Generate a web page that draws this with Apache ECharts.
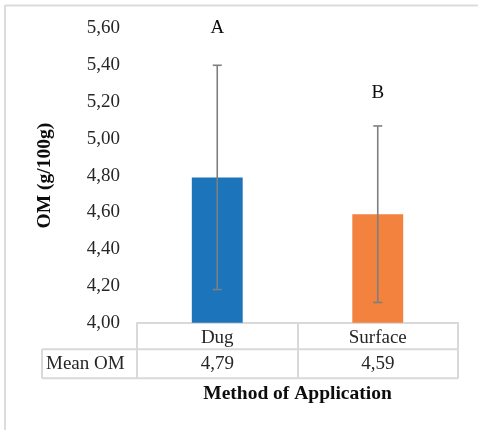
<!DOCTYPE html>
<html><head><meta charset="utf-8">
<script src="https://cdn.jsdelivr.net/npm/echarts@6/dist/echarts.min.js"></script>
<style>html,body{margin:0;padding:0;background:#fff}#c{width:478px;height:430px}</style>
</head><body><div id="c"></div>
<script>
var categories = ['Dug', 'Surface'];
var meanOM = [4.79, 4.59];
var errLow = [4.18, 4.11];
var errHigh = [5.40, 5.07];
var letters = ['A', 'B'];
var letterY = [5.60, 5.25];
var yTicks = [4.0, 4.2, 4.4, 4.6, 4.8, 5.0, 5.2, 5.4, 5.6];
var barColors = ['#1c74bb', '#f2823e'];
var rowLabel = 'Mean OM';

function fmt(v){ return v.toFixed(2).replace('.', ','); }
var FONT = '"Liberation Serif", "Times New Roman", serif';
var TXT = '#262626';

var chart = echarts.init(document.getElementById('c'), null, {renderer: 'canvas'});
var option = {
  animation: false,
  backgroundColor: '#fff',
  grid: {left: 137, right: 20, top: 28.5, bottom: 107.3},
  xAxis: [{
    type: 'category', data: categories, boundaryGap: true,
    axisLine: {show: true, lineStyle: {color: '#d9d9d9', width: 2}},
    axisTick: {show: true, inside: false, length: 56, lineStyle: {color: '#d9d9d9', width: 2}},
    axisLabel: {margin: 6, color: TXT, fontFamily: FONT, fontSize: 19},
    splitLine: {show: false}
  }],
  yAxis: [{
    type: 'value', min: yTicks[0], max: yTicks[yTicks.length - 1], interval: 0.2,
    axisLine: {show: false}, axisTick: {show: false}, splitLine: {show: false},
    axisLabel: {margin: 17, color: TXT, fontFamily: FONT, fontSize: 19, formatter: fmt},
    name: 'OM (g/100g)', nameLocation: 'middle', nameGap: 82, nameRotate: 90,
    nameTextStyle: {fontFamily: FONT, fontSize: 19.5, fontWeight: 'bold', color: '#0d0d0d'}
  }],
  series: [{
    type: 'bar', barWidth: '31.7%',
    data: meanOM.map(function(v, i){ return {value: v, itemStyle: {color: barColors[i]}}; }),
    z: 2
  }, {
    type: 'custom', z: 5,
    data: categories.map(function(c, i){ return [i, errLow[i], errHigh[i]]; }),
    renderItem: function(params, api){
      var lo = api.coord([api.value(0), api.value(1)]);
      var hi = api.coord([api.value(0), api.value(2)]);
      var hw = 4.5;
      var st = {stroke: '#7f7f7f', lineWidth: 1.6};
      return {type: 'group', children: [
        {type: 'line', shape: {x1: hi[0], y1: hi[1], x2: lo[0], y2: lo[1]}, style: st},
        {type: 'line', shape: {x1: hi[0]-hw, y1: hi[1], x2: hi[0]+hw, y2: hi[1]}, style: st},
        {type: 'line', shape: {x1: lo[0]-hw, y1: lo[1], x2: lo[0]+hw, y2: lo[1]}, style: st}
      ]};
    }
  }, {
    type: 'custom', z: 6,
    data: categories.map(function(c, i){ return [i, letterY[i]]; }),
    renderItem: function(params, api){
      var p = api.coord([api.value(0), api.value(1)]);
      return {type: 'text', style: {x: p[0], y: p[1], text: letters[params.dataIndex], align: 'center', verticalAlign: 'middle',
        font: '19px ' + FONT, fill: '#0d0d0d'}};
    }
  }]
};
chart.setOption(option);

// Data table below the axis, positioned through the axis scale
var x0 = chart.convertToPixel({xAxisIndex: 0}, categories[0]);
var x1 = chart.convertToPixel({xAxisIndex: 0}, categories[1]);
var band = x1 - x0;
var left = x0 - band / 2, right = x1 + band / 2;
var yBase = chart.convertToPixel({yAxisIndex: 0}, yTicks[0]);
var row1 = yBase + 26.5, row2 = yBase + 55.5;
var lineStyle = {stroke: '#d9d9d9', lineWidth: 2};
var g = [
  {type: 'line', shape: {x1: 42, y1: row1, x2: right, y2: row1}, style: lineStyle},
  {type: 'line', shape: {x1: 42, y1: row2, x2: right, y2: row2}, style: lineStyle},
  {type: 'line', shape: {x1: 42, y1: row1, x2: 42, y2: row2}, style: lineStyle},
  {type: 'text', style: {x: 46, y: (row1 + row2) / 2, text: rowLabel, align: 'left', verticalAlign: 'middle', font: '19px ' + FONT, fill: TXT}},
  {type: 'text', style: {x: (left + right) / 2, y: 394, text: 'Method of Application', align: 'center', verticalAlign: 'middle', font: 'bold 19.5px ' + FONT, fill: '#0d0d0d'}},
  {type: 'line', shape: {x1: 5, y1: 5.5, x2: 478, y2: 5.5}, style: {stroke: '#dcdcdc', lineWidth: 2}},
  {type: 'line', shape: {x1: 5, y1: 5, x2: 5, y2: 430}, style: {stroke: '#dcdcdc', lineWidth: 2}}
];
categories.forEach(function(c, i){
  var cx = chart.convertToPixel({xAxisIndex: 0}, c);
  g.push({type: 'text', style: {x: cx, y: (row1 + row2) / 2, text: fmt(meanOM[i]), align: 'center', verticalAlign: 'middle', font: '19px ' + FONT, fill: TXT}});
});
chart.setOption({graphic: g});
</script>
</body></html>
